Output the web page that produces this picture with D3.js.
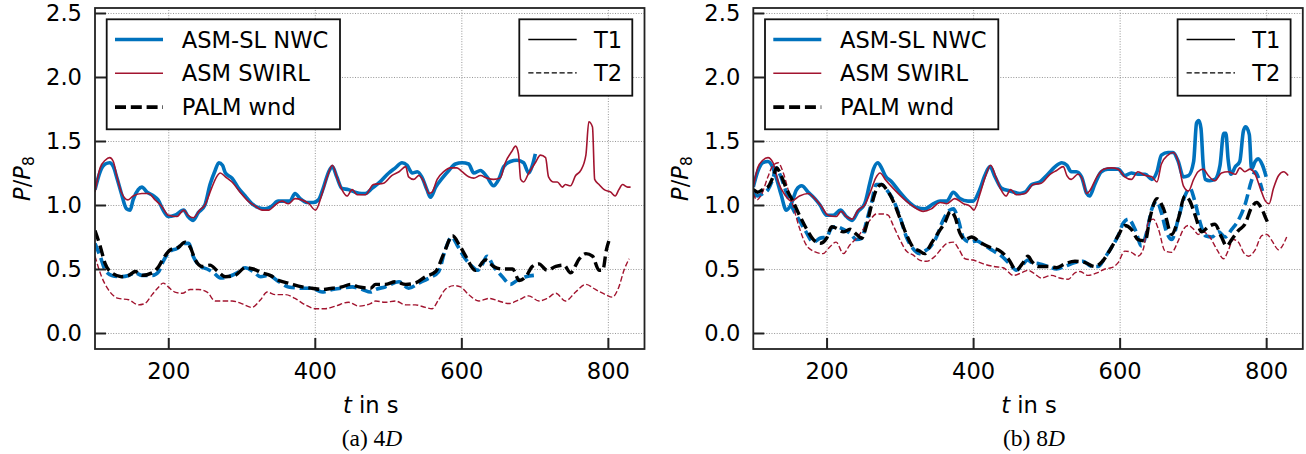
<!DOCTYPE html>
<html>
<head>
<meta charset="utf-8">
<script src="https://d3js.org/d3.v7.min.js"></script>
<style>
body { margin: 0; background: #fff; }
svg text { font-family: "DejaVu Sans", sans-serif; fill: #000; }
</style>
</head>
<body>
<svg id="chart" width="1306" height="454"></svg>
<script>
// ---- data: [t in s, P/P8] ----
// (a) 4D
var a4_nwc_t1 = [[100,1.12],[107,1.26],[114,1.32],[120,1.33],[125,1.30],[130,1.21],[136,1.09],[143,0.97],[148,0.96],[152,1.04],[159,1.12],[164,1.14],[171,1.10],[180,1.07],[186,1.04],[193,0.96],[200,0.91],[209,0.92],[221,0.96],[227,0.91],[234,0.88],[241,0.94],[250,1.00],[257,1.16],[264,1.27],[269,1.33],[274,1.31],[278,1.25],[287,1.21],[296,1.13],[305,1.07],[314,1.01],[323,0.98],[332,0.97],[341,0.99],[350,1.03],[360,1.03],[366,1.03],[373,1.09],[380,1.05],[389,1.02],[398,1.02],[405,1.04],[412,1.14],[419,1.26],[424,1.30],[430,1.22],[437,1.13],[446,1.12],[455,1.10],[464,1.09],[469,1.09],[478,1.13],[489,1.18],[501,1.25],[510,1.29],[519,1.33],[526,1.31],[533,1.25],[540,1.26],[546,1.22],[553,1.12],[558,1.06],[565,1.14],[574,1.21],[583,1.27],[592,1.32],[601,1.33],[610,1.32],[617,1.25],[626,1.27],[635,1.22],[644,1.15],[651,1.20],[658,1.30],[667,1.34],[676,1.35],[685,1.33],[692,1.25],[697,1.31],[701,1.40]];
var a4_swl_t1 = [[100,1.10],[107,1.29],[114,1.35],[120,1.37],[125,1.34],[130,1.22],[136,1.10],[145,1.04],[152,1.07],[164,1.09],[173,1.09],[182,1.04],[191,0.99],[200,0.92],[212,0.91],[221,0.96],[227,0.92],[234,0.90],[243,0.96],[250,1.00],[259,1.13],[266,1.22],[271,1.25],[278,1.22],[287,1.18],[298,1.10],[309,1.03],[319,0.99],[328,0.96],[337,0.96],[346,1.00],[355,1.03],[364,1.01],[373,1.05],[382,1.04],[392,1.01],[401,0.96],[410,1.09],[417,1.22],[424,1.31],[430,1.22],[437,1.12],[444,1.07],[451,1.12],[458,1.08],[469,1.08],[480,1.16],[494,1.17],[505,1.23],[515,1.26],[524,1.30],[528,1.22],[535,1.20],[542,1.23],[549,1.18],[556,1.09],[560,1.10],[567,1.20],[576,1.26],[585,1.29],[594,1.29],[601,1.26],[610,1.22],[617,1.21],[626,1.23],[635,1.21],[644,1.20],[653,1.21],[660,1.33],[669,1.42],[674,1.46],[678,1.40],[681,1.20],[685,1.18],[692,1.25],[701,1.33],[708,1.39],[715,1.37],[719,1.22],[726,1.18],[731,1.18],[738,1.14],[742,1.16],[749,1.15],[756,1.23],[763,1.27],[770,1.39],[774,1.65],[779,1.61],[782,1.20],[788,1.16],[795,1.12],[804,1.10],[810,1.07],[815,1.12],[820,1.16],[827,1.14],[831,1.14]];
var a4_nwc_t2 = [[100,0.70],[107,0.60],[114,0.49],[123,0.45],[136,0.44],[146,0.45],[155,0.47],[164,0.45],[178,0.45],[187,0.48],[193,0.56],[203,0.64],[212,0.66],[221,0.70],[228,0.70],[234,0.60],[244,0.52],[253,0.50],[262,0.47],[271,0.43],[282,0.44],[294,0.47],[305,0.51],[316,0.48],[326,0.44],[337,0.45],[351,0.40],[364,0.36],[383,0.35],[396,0.35],[410,0.32],[424,0.34],[437,0.35],[451,0.36],[465,0.34],[476,0.32],[483,0.34],[496,0.36],[515,0.40],[528,0.35],[542,0.39],[556,0.43],[569,0.48],[578,0.65],[587,0.75],[594,0.69],[603,0.60],[613,0.53],[622,0.49],[629,0.54],[635,0.60],[644,0.52],[656,0.44],[667,0.38],[676,0.41],[688,0.44],[699,0.45]];
var a4_swl_t2 = [[100,0.60],[109,0.44],[118,0.34],[132,0.27],[146,0.26],[159,0.22],[168,0.23],[178,0.30],[187,0.36],[193,0.39],[200,0.36],[209,0.32],[219,0.31],[230,0.34],[241,0.34],[253,0.32],[264,0.25],[275,0.25],[287,0.25],[300,0.23],[314,0.20],[326,0.26],[335,0.32],[346,0.30],[360,0.30],[373,0.27],[387,0.22],[401,0.19],[414,0.19],[428,0.21],[446,0.24],[460,0.21],[476,0.23],[483,0.25],[496,0.24],[510,0.25],[524,0.22],[537,0.22],[551,0.20],[560,0.19],[569,0.26],[578,0.34],[590,0.37],[599,0.36],[610,0.30],[624,0.25],[638,0.27],[651,0.25],[665,0.23],[679,0.26],[692,0.29],[706,0.25],[717,0.27],[729,0.31],[742,0.25],[756,0.32],[770,0.38],[783,0.34],[797,0.30],[806,0.28],[815,0.36],[822,0.49],[829,0.58]];
var a4_palm = [[100,0.80],[107,0.68],[114,0.54],[123,0.47],[136,0.44],[146,0.45],[155,0.48],[164,0.45],[178,0.47],[187,0.52],[193,0.58],[203,0.65],[214,0.67],[223,0.71],[230,0.67],[237,0.57],[246,0.52],[257,0.53],[266,0.49],[278,0.44],[291,0.45],[305,0.51],[316,0.50],[328,0.47],[339,0.45],[351,0.41],[364,0.39],[383,0.36],[396,0.35],[410,0.34],[424,0.35],[437,0.36],[449,0.38],[460,0.36],[476,0.35],[483,0.38],[496,0.38],[510,0.40],[524,0.38],[537,0.39],[551,0.44],[565,0.48],[576,0.62],[588,0.76],[597,0.69],[606,0.60],[619,0.49],[633,0.57],[644,0.52],[656,0.50],[670,0.50],[679,0.41],[688,0.44],[697,0.52],[706,0.54],[717,0.49],[729,0.52],[740,0.53],[749,0.47],[761,0.58],[770,0.62],[779,0.60],[788,0.49],[793,0.49],[798,0.65],[802,0.73]];

// (b) 8D
var b8_nwc_t1 = [[100,1.14],[106,1.26],[113,1.33],[120,1.34],[126,1.30],[131,1.22],[138,1.08],[145,0.96],[152,1.01],[159,1.12],[166,1.15],[175,1.10],[184,1.05],[191,1.00],[200,0.92],[209,0.92],[219,0.96],[227,0.91],[235,0.88],[243,0.95],[252,1.01],[259,1.17],[264,1.28],[270,1.33],[275,1.29],[280,1.23],[289,1.18],[300,1.10],[311,1.03],[323,0.98],[334,0.97],[346,1.01],[355,1.03],[364,1.03],[373,1.10],[382,1.05],[393,1.03],[400,1.03],[409,1.12],[416,1.23],[423,1.30],[430,1.22],[439,1.13],[450,1.11],[464,1.09],[471,1.10],[480,1.16],[491,1.18],[502,1.24],[512,1.30],[521,1.33],[528,1.31],[534,1.26],[541,1.26],[548,1.22],[555,1.09],[559,1.07],[566,1.16],[575,1.26],[584,1.28],[598,1.28],[607,1.23],[616,1.25],[625,1.24],[635,1.24],[644,1.20],[651,1.26],[657,1.39],[666,1.41],[673,1.41],[680,1.34],[687,1.22],[694,1.23],[701,1.34],[705,1.64],[708,1.66],[711,1.60],[714,1.32],[717,1.20],[723,1.19],[730,1.20],[737,1.31],[742,1.56],[745,1.56],[748,1.36],[752,1.24],[758,1.30],[764,1.34],[769,1.58],[772,1.61],[777,1.55],[780,1.28],[785,1.34],[789,1.36],[795,1.31],[800,1.22]];
var b8_swl_t1 = [[100,1.14],[106,1.29],[113,1.35],[120,1.37],[127,1.33],[134,1.18],[143,1.08],[152,1.03],[163,1.07],[175,1.09],[184,1.05],[193,0.99],[202,0.92],[213,0.91],[220,0.95],[227,0.91],[235,0.89],[243,0.96],[252,1.00],[261,1.12],[267,1.21],[273,1.25],[280,1.20],[291,1.13],[305,1.05],[318,0.99],[332,0.95],[343,0.97],[355,1.02],[364,1.01],[375,1.05],[387,1.01],[396,0.99],[401,0.96],[409,1.08],[416,1.21],[424,1.31],[431,1.22],[438,1.12],[445,1.07],[451,1.12],[459,1.08],[471,1.09],[482,1.16],[493,1.17],[505,1.24],[514,1.27],[523,1.30],[528,1.23],[534,1.20],[543,1.24],[550,1.19],[555,1.09],[559,1.11],[569,1.22],[578,1.28],[589,1.29],[598,1.28],[607,1.22],[616,1.20],[625,1.26],[635,1.23],[644,1.22],[651,1.18],[657,1.32],[666,1.39],[673,1.41],[680,1.34],[687,1.15],[694,1.11],[701,1.20],[707,1.26],[714,1.28],[721,1.23],[730,1.19],[739,1.25],[748,1.26],[758,1.24],[764,1.29],[771,1.26],[778,1.28],[785,1.24],[792,1.13],[799,1.03],[804,1.01],[810,1.13],[817,1.23],[824,1.26],[830,1.23]];
var b8_nwc_t2 = [[100,1.09],[106,1.07],[113,1.09],[120,1.12],[127,1.21],[131,1.29],[137,1.23],[145,1.10],[154,0.97],[163,0.88],[172,0.79],[182,0.71],[191,0.74],[200,0.75],[207,0.82],[213,0.83],[223,0.81],[232,0.78],[241,0.73],[248,0.74],[254,0.86],[261,1.01],[268,1.16],[275,1.16],[282,1.12],[291,1.04],[300,0.91],[309,0.75],[318,0.66],[327,0.62],[334,0.64],[341,0.67],[350,0.75],[359,0.88],[368,0.96],[373,0.97],[380,0.88],[387,0.74],[396,0.71],[405,0.72],[414,0.69],[428,0.64],[439,0.60],[450,0.54],[459,0.49],[467,0.53],[475,0.57],[480,0.55],[491,0.54],[502,0.52],[514,0.50],[525,0.52],[539,0.55],[550,0.56],[562,0.52],[571,0.52],[580,0.59],[589,0.67],[598,0.76],[605,0.86],[612,0.89],[621,0.81],[630,0.68],[637,0.79],[644,0.97],[651,1.03],[657,0.94],[664,0.79],[671,0.73],[680,0.89],[689,1.07],[696,1.13],[703,1.02],[710,0.86],[717,0.76],[726,0.75],[735,0.79],[744,0.75],[753,0.81],[762,0.88],[771,1.00],[780,1.19],[785,1.26],[789,1.22],[795,1.11]];
var b8_swl_t2 = [[100,1.09],[105,1.04],[111,1.08],[120,1.22],[127,1.31],[134,1.33],[141,1.25],[147,1.13],[154,1.00],[163,0.82],[172,0.69],[182,0.64],[195,0.62],[204,0.67],[213,0.71],[223,0.62],[232,0.69],[241,0.74],[250,0.81],[259,0.88],[268,0.93],[277,0.93],[284,0.92],[291,0.84],[300,0.73],[309,0.64],[318,0.61],[327,0.57],[336,0.56],[348,0.60],[357,0.66],[364,0.70],[373,0.71],[380,0.66],[389,0.58],[400,0.57],[414,0.54],[428,0.52],[441,0.51],[455,0.45],[466,0.47],[475,0.49],[482,0.47],[493,0.43],[507,0.45],[518,0.43],[530,0.42],[539,0.47],[546,0.48],[557,0.45],[569,0.47],[580,0.50],[589,0.51],[598,0.55],[607,0.64],[616,0.63],[625,0.60],[632,0.65],[639,0.86],[646,0.89],[653,0.81],[662,0.64],[671,0.63],[680,0.72],[687,0.81],[694,0.84],[701,0.81],[707,0.77],[714,0.79],[723,0.75],[733,0.65],[742,0.58],[748,0.64],[755,0.73],[762,0.71],[769,0.63],[776,0.60],[785,0.65],[794,0.76],[801,0.77],[808,0.72],[817,0.65],[821,0.67],[828,0.75]];
var b8_palm = [[100,1.12],[106,1.10],[113,1.12],[120,1.14],[127,1.22],[132,1.29],[138,1.23],[145,1.13],[154,1.03],[163,0.92],[172,0.82],[182,0.73],[191,0.70],[200,0.74],[207,0.83],[213,0.82],[223,0.79],[232,0.81],[241,0.77],[248,0.74],[254,0.83],[261,0.99],[268,1.12],[275,1.16],[282,1.12],[291,1.03],[300,0.90],[309,0.77],[318,0.67],[327,0.64],[334,0.62],[343,0.70],[352,0.78],[362,0.87],[369,0.95],[375,0.91],[382,0.78],[389,0.73],[398,0.75],[409,0.71],[423,0.67],[437,0.64],[448,0.58],[459,0.49],[467,0.54],[475,0.60],[480,0.56],[489,0.52],[502,0.52],[514,0.51],[525,0.54],[539,0.56],[553,0.55],[566,0.52],[575,0.55],[587,0.65],[598,0.76],[607,0.84],[616,0.81],[625,0.73],[635,0.72],[641,0.89],[651,1.05],[660,0.97],[671,0.77],[680,0.89],[689,1.07],[696,1.03],[703,0.92],[712,0.79],[721,0.83],[730,0.85],[739,0.75],[746,0.68],[753,0.73],[762,0.80],[771,0.85],[780,0.98],[787,1.02],[794,0.97],[800,0.89],[804,0.84]];

var xTicks = [200, 400, 600, 800];
var yTicks = [0, 0.5, 1.0, 1.5, 2.0, 2.5];
var modelNames = ["ASM-SL NWC", "ASM SWIRL", "PALM wnd"];
var turbineNames = ["T1", "T2"];

var BLUE = "#0072bd", RED = "#a2142f";
var thick = 3.6, thin = 1.6;
var fs = 22.6;

var svg = d3.select("#chart");
var plotTop = 8, plotBottom = 349, plotW = 549.5;

function drawPanel(x0, id, series, capLetter, capNum, capX) {
    var x = d3.scaleLinear().domain([100, 850]).range([x0, x0 + plotW]);
    var y = d3.scaleLinear().domain([-0.125, 2.539]).range([plotBottom, plotTop]);
    var g = svg.append("g");

    g.append("clipPath").attr("id", "clip" + id)
        .append("rect").attr("x", x0).attr("y", plotTop).attr("width", plotW).attr("height", plotBottom - plotTop);

    // grid
    g.append("g")
        .attr("transform", `translate(0,${plotBottom})`)
        .call(d3.axisBottom(x).tickValues(xTicks).tickSize(-(plotBottom - plotTop)).tickFormat(""))
        .call(a => a.select(".domain").remove())
        .selectAll("line").attr("stroke", "#8a8a8a").attr("stroke-width", 0.9).attr("stroke-dasharray", "1,1.6");
    g.append("g")
        .attr("transform", `translate(${x0},0)`)
        .call(d3.axisLeft(y).tickValues(yTicks).tickSize(-plotW).tickFormat(""))
        .call(a => a.select(".domain").remove())
        .selectAll("line").attr("stroke", "#8a8a8a").attr("stroke-width", 0.9).attr("stroke-dasharray", "1,1.6");

    var line = d3.line().x(d => x(d[0])).y(d => y(d[1])).curve(d3.curveMonotoneX);
    var lines = g.append("g").attr("clip-path", `url(#clip${id})`);
    series.forEach(function (s) {
        lines.append("path")
            .attr("d", line(s.data))
            .attr("fill", "none")
            .attr("stroke", s.color)
            .attr("stroke-width", s.width)
            .attr("stroke-dasharray", s.dash)
            .attr("stroke-linejoin", "round");
    });

    // ticks + labels, ticks pointing inward
    var xa = g.append("g")
        .attr("transform", `translate(0,${plotBottom})`)
        .call(d3.axisBottom(x).tickValues(xTicks).tickSizeInner(-11).tickSizeOuter(0).tickPadding(14));
    var ya = g.append("g")
        .attr("transform", `translate(${x0},0)`)
        .call(d3.axisLeft(y).tickValues(yTicks).tickFormat(d3.format(".1f")).tickSizeInner(-11).tickSizeOuter(0).tickPadding(13));
    [xa, ya].forEach(function (a) {
        a.select(".domain").remove();
        a.selectAll("line").attr("stroke", "#222").attr("stroke-width", 2);
        a.selectAll("text").attr("font-size", fs).attr("font-family", "DejaVu Sans").attr("fill", "#000");
    });

    g.append("rect")
        .attr("x", x0).attr("y", plotTop).attr("width", plotW).attr("height", plotBottom - plotTop)
        .attr("fill", "none").attr("stroke", "#222").attr("stroke-width", 1.8);

    // legend of models
    var lg = g.append("g").attr("transform", `translate(${x0 + 11.7},19.3)`);
    lg.append("rect").attr("width", 233.3).attr("height", 110)
        .attr("fill", "#fff").attr("stroke", "#111").attr("stroke-width", 1.8);
    var legStyles = [
        {color: BLUE, width: thick, dash: null},
        {color: RED, width: thin, dash: null},
        {color: "#000", width: thick, dash: "11,4.8"}
    ];
    modelNames.forEach(function (name, i) {
        var ry = 20.2 + i * 33.8;
        lg.append("line").attr("x1", 8.3).attr("x2", 56.3).attr("y1", ry).attr("y2", ry)
            .attr("stroke", legStyles[i].color).attr("stroke-width", legStyles[i].width)
            .attr("stroke-dasharray", legStyles[i].dash);
        lg.append("text").attr("x", 75).attr("y", ry).attr("dy", "0.36em")
            .attr("font-size", fs).text(name);
    });

    // legend of turbines
    var tg = g.append("g").attr("transform", `translate(${x0 + 424.3},19.3)`);
    tg.append("rect").attr("width", 113).attr("height", 76.4)
        .attr("fill", "#fff").attr("stroke", "#111").attr("stroke-width", 1.8);
    turbineNames.forEach(function (name, i) {
        var ry = 20.2 + i * 33.4;
        tg.append("line").attr("x1", 9).attr("x2", 57.4).attr("y1", ry).attr("y2", ry)
            .attr("stroke", "#000").attr("stroke-width", 1.4)
            .attr("stroke-dasharray", i === 1 ? "5.2,2.6" : null);
        tg.append("text").attr("x", 74.7).attr("y", ry).attr("dy", "0.36em")
            .attr("font-size", fs).text(name);
    });

    // x label
    var xl = g.append("text").attr("x", x0 + plotW / 2 + 1).attr("y", 413)
        .attr("text-anchor", "middle").attr("font-size", fs);
    xl.append("tspan").attr("font-style", "italic").text("t");
    xl.append("tspan").text(" in s");

    // y label
    var yl = g.append("text")
        .attr("transform", `translate(${x0 - 65},${(plotTop + plotBottom) / 2}) rotate(-90)`)
        .attr("text-anchor", "middle").attr("font-size", fs);
    yl.append("tspan").attr("font-style", "italic").text("P");
    yl.append("tspan").text("/");
    yl.append("tspan").attr("font-style", "italic").text("P");
    yl.append("tspan").attr("font-size", 15.5).attr("dy", 4).text("8");

    // caption
    var cp = g.append("text").attr("x", capX).attr("y", 446)
        .attr("text-anchor", "middle").attr("font-size", 23.5)
        .style("font-family", "'Liberation Serif', serif");
    cp.append("tspan").text("(" + capLetter + ") " + capNum);
    cp.append("tspan").attr("font-style", "italic").text("D");
}

function makeSeries(nwc1, nwc2, swl1, swl2, palm) {
    return [
        {data: nwc1, color: BLUE, width: thick, dash: null},
        {data: nwc2, color: BLUE, width: thick, dash: "11,4.8"},
        {data: swl1, color: RED, width: thin, dash: null},
        {data: swl2, color: RED, width: 1.4, dash: "5.5,2.4"},
        {data: palm, color: "#000", width: 3.4, dash: "11,4.8"}
    ];
}

drawPanel(95, "a", makeSeries(a4_nwc_t1, a4_nwc_t2, a4_swl_t1, a4_swl_t2, a4_palm), "a", "4", 372);
drawPanel(753.3, "b", makeSeries(b8_nwc_t1, b8_nwc_t2, b8_swl_t1, b8_swl_t2, b8_palm), "b", "8", 1034);
</script>
</body>
</html>
